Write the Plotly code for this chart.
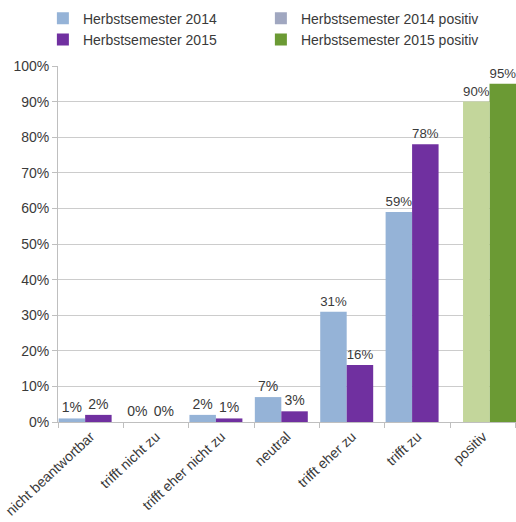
import plotly.graph_objects as go

categories = ["nicht beantwortbar", "trifft nicht zu", "trifft eher nicht zu",
              "neutral", "trifft eher zu", "trifft zu"]
values_2014 = [1, 0, 2, 7, 31, 59]
values_2015 = [2, 0, 1, 3, 16, 78]
positive_label = "positiv"
positive_2014 = [90]
positive_2015 = [95]
y_ticks = list(range(0, 101, 10))

c2014 = "#95b3d7"
c2015 = "#7030a0"
c2014p = "#c3d69b"
c2015p = "#6b9a34"
c2014p_legend = "#a0a7c0"
text_color = "#3a3a3a"
font_family = "Liberation Sans, Arial, sans-serif"
bw = 0.405

fig = go.Figure()

label_font = dict(family=font_family, size=14, color=text_color)

fig.add_trace(go.Bar(
    name="Herbstsemester 2014", x=categories, y=values_2014,
    marker_color=c2014, width=bw, offset=-0.49,
    text=[f"{v}%" for v in values_2014], textposition="outside",
    textfont=label_font, cliponaxis=False,
))
# legend swatch for the 2014 positive column
fig.add_trace(go.Bar(
    name="Herbstsemester 2014 positiv", x=[None], y=[None],
    marker_color=c2014p_legend,
))
fig.add_trace(go.Bar(
    name="Herbstsemester 2015", x=categories, y=values_2015,
    marker_color=c2015, width=bw, offset=-0.49 + bw,
    text=[f"{v}%" for v in values_2015], textposition="outside",
    textfont=label_font, cliponaxis=False,
))
fig.add_trace(go.Bar(
    name="Herbstsemester 2015 positiv", x=[positive_label], y=positive_2015,
    marker_color=c2015p, width=bw, offset=-0.306 + bw,
    text=[f"{v}%" for v in positive_2015], textposition="outside",
    textfont=label_font, cliponaxis=False,
))
fig.add_trace(go.Bar(
    name="Herbstsemester 2014 positiv", x=[positive_label], y=positive_2014,
    marker_color=c2014p, width=bw, offset=-0.306, showlegend=False,
    text=[f"{v}%" for v in positive_2014], textposition="outside",
    textfont=label_font, cliponaxis=False,
))

fig.update_traces(marker_line_width=0)

fig.update_layout(
    width=516, height=522,
    margin=dict(l=58, r=0, t=66, b=100, autoexpand=False),
    paper_bgcolor="white", plot_bgcolor="white",
    barmode="overlay",
    font=dict(family=font_family, size=14, color=text_color),
    legend=dict(
        orientation="h", x=-0.033, xanchor="left", y=1.178, yanchor="top",
        entrywidth=173, entrywidthmode="pixels", bgcolor="rgba(0,0,0,0)",
        font=dict(family=font_family, size=14, color=text_color),
        traceorder="normal", itemclick=False,
    ),
    xaxis=dict(
        categoryorder="array", categoryarray=categories + [positive_label],
        tickson="boundaries", ticks="outside", ticklen=5, tickcolor="#bfbfbf",
        showline=True, linecolor="#bfbfbf", tickangle=-43,
        tickfont=dict(family=font_family, size=14, color=text_color),
        showgrid=False,
    ),
    yaxis=dict(
        range=[0, 100], tickvals=y_ticks, ticktext=[f"{t}%" for t in y_ticks],
        ticks="outside", ticklen=5, tickcolor="#bfbfbf",
        showline=True, linecolor="#bfbfbf",
        gridcolor="#cccccc", gridwidth=1, zeroline=False,
        tickfont=dict(family=font_family, size=14, color=text_color),
    ),
)

fig.write_html("out.html")
